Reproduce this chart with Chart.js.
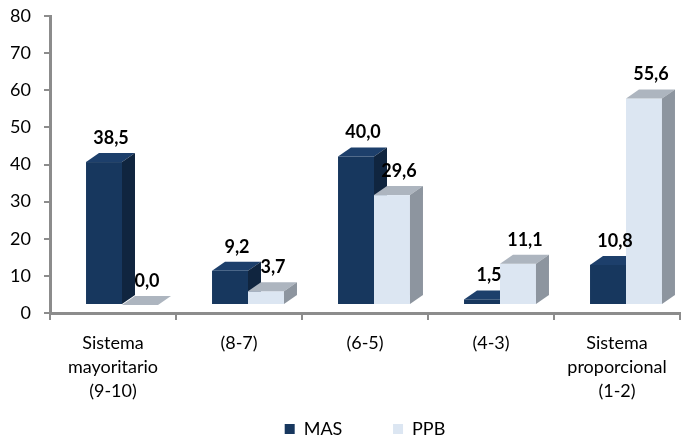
<!DOCTYPE html>
<html>
<head>
<meta charset="utf-8">
<script src="https://cdn.jsdelivr.net/npm/chart.js@4"></script>
<style>
  html, body { margin: 0; padding: 0; background: #fff; }
  #wrap { width: 683px; height: 442px; }
</style>
</head>
<body>
<div id="wrap"><canvas id="chart"></canvas></div>
<script>
// datos
const categorias = [
  ['Sistema', 'mayoritario', '(9-10)'],
  '(8-7)',
  '(6-5)',
  '(4-3)',
  ['Sistema', 'proporcional', '(1-2)']
];
const valoresMAS = [38.5, 9.2, 40.0, 1.5, 10.8];
const valoresPPB = [0.0, 3.7, 29.6, 11.1, 55.6];
const ticksY = [0, 10, 20, 30, 40, 50, 60, 70, 80];

const FONT = 'Lato, "Open Sans", sans-serif';
const axisColor = '#8c8c8c';

// caras de las barras 3D
const caras = [
  { front: '#17375e', top: '#1d3f6b', side: '#10253f' },
  { front: '#dce6f2', top: '#adb5bf', side: '#8d959f' }
];
const prof = { dx: 13, dy: 9 };
const desp = { x: 9, y: -8 };

const barras3D = {
  id: 'barras3D',
  beforeDatasetsDraw(chart) {
    const ctx = chart.ctx;
    ctx.save();
    chart.data.datasets.forEach((ds, i) => {
      const meta = chart.getDatasetMeta(i);
      const c = caras[i];
      meta.data.forEach((bar) => {
        const left = bar.x - bar.width / 2 + desp.x;
        const right = left + bar.width;
        const top = bar.y + desp.y;
        const bottom = bar.base + desp.y;
        // frente
        ctx.fillStyle = c.front;
        ctx.fillRect(left, top, bar.width, bottom - top);
        // cara superior
        ctx.fillStyle = c.top;
        ctx.beginPath();
        ctx.moveTo(left, top);
        ctx.lineTo(left + prof.dx, top - prof.dy);
        ctx.lineTo(right + prof.dx, top - prof.dy);
        ctx.lineTo(right, top);
        ctx.closePath();
        ctx.fill();
        // cara lateral
        ctx.fillStyle = c.side;
        ctx.beginPath();
        ctx.moveTo(right, top);
        ctx.lineTo(right + prof.dx, top - prof.dy);
        ctx.lineTo(right + prof.dx, bottom - prof.dy);
        ctx.lineTo(right, bottom);
        ctx.closePath();
        ctx.fill();
      });
    });
    // etiquetas de valores
    ctx.fillStyle = '#000';
    ctx.font = 'bold 18px ' + FONT;
    ctx.textAlign = 'center';
    ctx.textBaseline = 'middle';
    chart.data.datasets.forEach((ds, i) => {
      const meta = chart.getDatasetMeta(i);
      meta.data.forEach((bar, j) => {
        const txt = ds.data[j].toFixed(1).replace('.', ',');
        ctx.fillText(txt, bar.x + desp.x + 7, bar.y + desp.y - 24);
      });
    });
    ctx.restore();
    return false;
  }
};

const ctx = document.getElementById('chart');
new Chart(ctx, {
  type: 'bar',
  data: {
    labels: categorias,
    datasets: [
      { label: 'MAS', data: valoresMAS, backgroundColor: caras[0].front },
      { label: 'PPB', data: valoresPPB, backgroundColor: caras[1].front }
    ]
  },
  options: {
    responsive: true,
    maintainAspectRatio: false,
    animation: false,
    layout: { padding: { top: 16, right: 3, left: 0, bottom: 0 } },
    datasets: {
      bar: { categoryPercentage: 0.571, barPercentage: 1.0 }
    },
    plugins: {
      tooltip: { enabled: false },
      legend: {
        position: 'bottom',
        fullSize: false,
        maxHeight: 22,
        labels: {
          boxWidth: 10,
          boxHeight: 10,
          padding: 0,
          color: '#000',
          font: { family: FONT, size: 18 },
          generateLabels(chart) {
            return chart.data.datasets.map((ds, i) => ({
              text: i === 0 ? ds.label + '\u00a0'.repeat(11) : ds.label,
              fillStyle: ds.backgroundColor,
              strokeStyle: ds.backgroundColor,
              lineWidth: 0,
              datasetIndex: i,
              hidden: false
            }));
          }
        }
      }
    },
    scales: {
      x: {
        grid: {
          offset: true,
          drawOnChartArea: false,
          drawTicks: true,
          tickLength: 7,
          color: axisColor,
          lineWidth: 2
        },
        border: { color: axisColor, width: 3 },
        ticks: {
          color: '#000',
          padding: 11,
          maxRotation: 0,
          autoSkip: false,
          font: { family: FONT, size: 18, lineHeight: 1.33 }
        },
        afterFit(scale) { scale.height = 107; }
      },
      y: {
        min: 0,
        max: 80,
        afterBuildTicks(scale) { scale.ticks = ticksY.map((v) => ({ value: v })); },
        grid: {
          drawOnChartArea: false,
          drawTicks: true,
          tickLength: 6,
          color: axisColor,
          lineWidth: 2
        },
        border: { color: axisColor, width: 3 },
        ticks: {
          color: '#000',
          padding: 13,
          font: { family: FONT, size: 18 }
        },
        afterFit(scale) {
          scale.width = 50;
          scale.paddingTop = 0;
          scale.paddingBottom = 0;
        }
      }
    }
  },
  plugins: [barras3D]
});
</script>
</body>
</html>
